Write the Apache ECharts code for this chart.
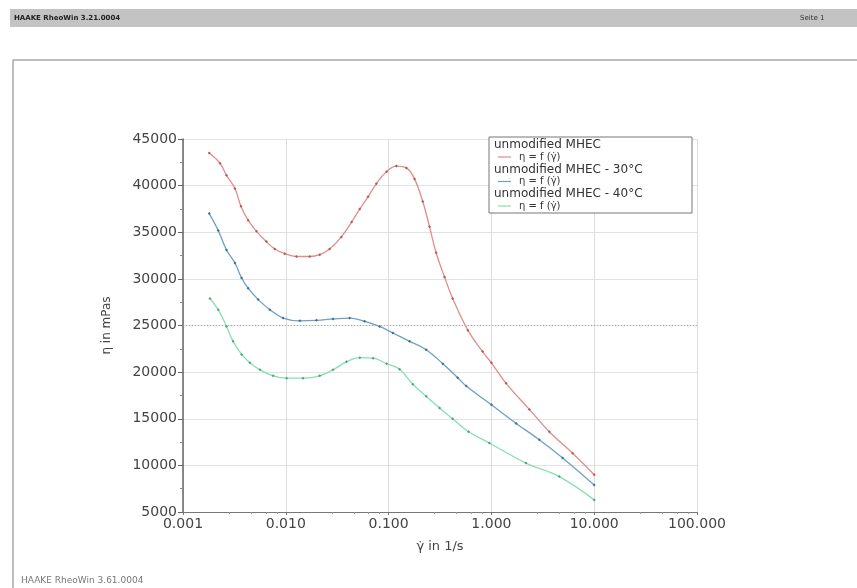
<!DOCTYPE html>
<html>
<head>
<meta charset="utf-8">
<script src="https://cdn.jsdelivr.net/npm/echarts@6/dist/echarts.min.js"></script>
<style>
html,body{margin:0;padding:0;background:#fff;}
#c{width:857px;height:588px;}
</style>
</head>
<body>
<div id="c"></div>
<script>
// ---- data ----
const seriesNames = ['unmodified MHEC', 'unmodified MHEC - 30°C', 'unmodified MHEC - 40°C'];
const xTickLabels = ['0.001', '0.010', '0.100', '1.000', '10.000', '100.000'];
const yTicks = [5000, 10000, 15000, 20000, 25000, 30000, 35000, 40000, 45000];

const mhec = [
  [0.0018, 43500], [0.00229, 42400], [0.00265, 41100], [0.0032, 39700], [0.00366, 37800],
  [0.0043, 36300], [0.00519, 35100], [0.00646, 34000], [0.00782, 33200], [0.00977, 32700],
  [0.0127, 32400], [0.0171, 32400], [0.0214, 32600], [0.0267, 33200], [0.0347, 34500],
  [0.0437, 36100], [0.0525, 37500], [0.0631, 38800], [0.0759, 40200], [0.0955, 41500],
  [0.119, 42100], [0.149, 41900], [0.179, 40700], [0.215, 38300], [0.25, 35600],
  [0.29, 32800], [0.35, 30200], [0.42, 27900], [0.59, 24500], [0.82, 22200],
  [1.0, 21000], [1.39, 18800], [2.34, 16000], [3.66, 13600], [6.17, 11300], [10, 9000]
];
const mhec30 = [
  [0.0018, 37000], [0.0022, 35200], [0.00265, 33100], [0.0032, 31700], [0.00372, 30100],
  [0.0043, 29000], [0.00537, 27800], [0.007, 26700], [0.00942, 25800], [0.0137, 25500],
  [0.0199, 25550], [0.0288, 25700], [0.0418, 25800], [0.0585, 25450], [0.0818, 24900],
  [0.110, 24200], [0.160, 23300], [0.232, 22400], [0.337, 20900], [0.47, 19400],
  [0.569, 18500], [1.0, 16500], [1.74, 14500], [2.92, 12750], [4.93, 10800], [10, 7900]
];
const mhec40 = [
  [0.00183, 27900], [0.0022, 26700], [0.00265, 24900], [0.00307, 23300], [0.00372, 21900],
  [0.00447, 21000], [0.0056, 20250], [0.00753, 19600], [0.0102, 19350], [0.0147, 19350],
  [0.0214, 19600], [0.0288, 20250], [0.0389, 21100], [0.0525, 21550], [0.0708, 21500],
  [0.0955, 20900], [0.128, 20300], [0.172, 18700], [0.232, 17400], [0.313, 16150],
  [0.42, 15000], [0.6, 13600], [0.955, 12400], [2.17, 10250], [4.57, 8800], [10, 6300]
];

const lineColors = ['#e28c8c', '#6f9fc2', '#86e0b0'];
const markColors = ['#b25a5a', '#40708f', '#4fa37a'];

const chart = echarts.init(document.getElementById('c'), null, {renderer: 'canvas'});

const legendX = 489, legendY = 137;
const legendEls = [];
seriesNames.forEach((n, i) => {
  legendEls.push({type: 'text', x: legendX + 5, y: legendY + 8 + i * 24.5, z: 11,
    style: {text: n, font: '12px "DejaVu Sans"', fill: '#333', verticalAlign: 'middle', align: 'left'}});
  legendEls.push({type: 'line', z: 11, shape: {x1: legendX + 9, y1: legendY + 20 + i * 24.5, x2: legendX + 22, y2: legendY + 20 + i * 24.5},
    style: {stroke: lineColors[i], lineWidth: 1.2}});
  legendEls.push({type: 'text', x: legendX + 30, y: legendY + 20 + i * 24.5, z: 11,
    style: {text: 'η = f (γ̇)', font: '10px "DejaVu Sans"', fill: '#333', verticalAlign: 'middle', align: 'left'}});
});

const option = {
  animation: false,
  backgroundColor: '#fff',
  grid: {left: 183, right: 160, top: 139, bottom: 76, containLabel: false},
  xAxis: {
    type: 'log', logBase: 10, min: 0.001, max: 100,
    name: 'γ̇ in 1/s', nameLocation: 'middle', nameGap: 28,
    nameTextStyle: {fontFamily: 'DejaVu Sans', fontSize: 13, color: '#444'},
    axisLine: {lineStyle: {color: '#777', width: 1}},
    axisTick: {show: true, length: 3, lineStyle: {color: '#777'}},
    minorTick: {show: true, splitNumber: 5, length: 2, lineStyle: {color: '#999'}},
    axisLabel: {fontFamily: 'DejaVu Sans', fontSize: 14, color: '#444', margin: 5,
      formatter: v => {
        const k = Math.round(Math.log10(v)) + 3;
        return xTickLabels[k] !== undefined ? xTickLabels[k] : '';
      }},
    splitLine: {show: true, lineStyle: {color: '#dcdcdc', width: 1}}
  },
  yAxis: {
    type: 'value', min: 5000, max: 45000, interval: 5000,
    name: 'η in mPas', nameLocation: 'middle', nameGap: 70,
    nameTextStyle: {fontFamily: 'DejaVu Sans', fontSize: 12, color: '#444'},
    axisLine: {show: true, lineStyle: {color: '#666', width: 1.5}},
    axisTick: {show: true, length: 5, lineStyle: {color: '#666'}},
    minorTick: {show: true, splitNumber: 2, length: 3, lineStyle: {color: '#888'}},
    axisLabel: {fontFamily: 'DejaVu Sans', fontSize: 14, color: '#444', margin: 6,
      formatter: v => String(v)},
    splitLine: {show: true, lineStyle: {color: '#e2e2e2', width: 1}}
  },
  series: [mhec, mhec30, mhec40].map((d, i) => ({
    name: seriesNames[i],
    type: 'line',
    data: d,
    smooth: 0.4,
    symbol: 'diamond',
    symbolSize: 3,
    lineStyle: {color: lineColors[i], width: 1.3},
    itemStyle: {color: markColors[i]},
    markLine: i === 0 ? {
      silent: true, symbol: 'none', label: {show: false},
      lineStyle: {color: '#aaa', type: [1, 2], width: 1},
      data: [{yAxis: 25000}]
    } : undefined,
    z: 3 - i
  })),
  graphic: [
    // header bar
    {type: 'rect', shape: {x: 10, y: 9, width: 847, height: 18}, style: {fill: '#c3c3c3'}},
    {type: 'text', x: 14, y: 18, style: {text: 'HAAKE RheoWin 3.21.0004', font: 'bold 7px "DejaVu Sans"', fill: '#222', verticalAlign: 'middle'}},
    {type: 'text', x: 800, y: 18, style: {text: 'Seite 1', font: '7px "DejaVu Sans"', fill: '#333', verticalAlign: 'middle'}},
    // page frame
    {type: 'line', shape: {x1: 13, y1: 60, x2: 857, y2: 60}, style: {stroke: '#a8a8a8', lineWidth: 1.5}},
    {type: 'line', shape: {x1: 13, y1: 60, x2: 13, y2: 588}, style: {stroke: '#a8a8a8', lineWidth: 1.5}},
    // footer
    {type: 'text', x: 21, y: 581, style: {text: 'HAAKE RheoWin 3.61.0004', font: '9px "DejaVu Sans"', fill: '#777', verticalAlign: 'middle'}},
    // legend box
    {type: 'rect', z: 10, shape: {x: legendX, y: legendY, width: 203, height: 76},
      style: {fill: '#fff', stroke: '#777', lineWidth: 1}}
  ].concat(legendEls)
};
chart.setOption(option);
</script>
</body>
</html>
